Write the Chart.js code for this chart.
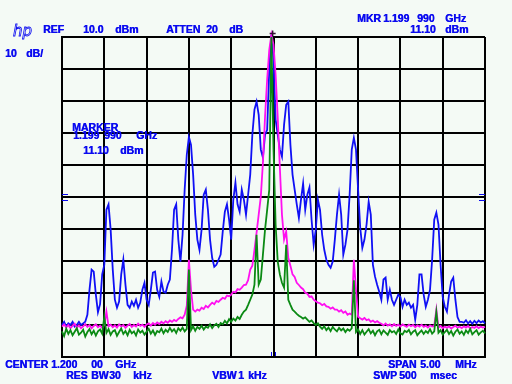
<!DOCTYPE html>
<html><head><meta charset="utf-8">
<script src="https://cdn.jsdelivr.net/npm/chart.js@4/dist/chart.umd.min.js"></script>
<style>html,body{margin:0;padding:0;background:#f4faf5;}canvas{display:block;}</style>
</head><body>
<canvas id="c" width="512" height="384" style="width:512px;height:384px"></canvas>
<script>
// Analyzer settings
const CENTER_MHZ = 1200.0;
const SPAN_MHZ = 5.0;
const REF_DBM = 10.0;
const DB_PER_DIV = 10;
const N_POINTS = 201;
const MARKER = { offsetMHz: -0.010, dBm: 11.10 };
const displayLines = [-39, -41];
const centerTicks = [-0.03, 0.02];

// Trace values (dBm), sampled across the span
const blueTrace = [
-80,-79,-80.5,-79.5,-80,-79,-80.5,-80,-79,-80,-79.5,
-79,-76.8,-69,-62.7,-63.3,-70.5,-76,-73.5,-64.2,-61.2,
-44,-42.3,-50.2,-62.7,-72.1,-74.6,-72.7,-64.2,-59.6,-67.4,
-73.7,-74.6,-72.7,-74,-72.1,-74.6,-73,-69,-66.8,-72.1,
-73.7,-69,-63.6,-63.3,-69,-71.2,-66.4,-69.6,-69.9,-67.4,
-65.8,-56.5,-44,-42.3,-53.3,-60.2,-51.8,-37.7,-26.8,-21.2,
-23.7,-33,-45.5,-53.3,-56.5,-50.2,-39.3,-37.7,-44,-53.3,
-59,-61.8,-61.2,-59.6,-58,-50.8,-44.6,-42.3,-47.1,-53.3,
-40.8,-35.5,-42.3,-44.6,-37.7,-40.8,-45.5,-39.3,-33,-20.5,
-12.7,-10.2,-14.3,-25.2,-27.7,-20.5,-19,-0.2,10.7,2.9,
-15.8,-20.5,-25.2,-27.4,-17.4,-11.2,-10.2,-23.7,-33,-37.7,
-42.3,-46.5,-40.8,-35.8,-44,-39.3,-37,-47.1,-54.9,-50.2,
-40.8,-44,-51.8,-56.5,-59.6,-61.2,-62.1,-60.2,-53.3,-45.5,
-39.3,-45.5,-58,-54.9,-50.2,-39.3,-25.2,-21.5,-25.2,-37.7,
-49.6,-55.9,-53.3,-48.6,-41.5,-45.5,-61.2,-64.9,-67.4,-69.6,
-72.1,-65.8,-65.2,-72.1,-69,-72.1,-73.7,-72.1,-70.5,-71.2,
-74.3,-72.1,-73.7,-73,-74.6,-73.7,-78.3,-73.7,-64.2,-64.2,
-70.5,-74.3,-72.1,-69,-59.6,-47.1,-44.9,-48.6,-61.2,-71.2,
-74.3,-75.8,-70.5,-66.4,-65.2,-72.1,-77.5,-79,-79,-79.3,
-78.5,-79.5,-78.8,-79.6,-78.7,-79.4,-78.6,-79.2,-78.8,-79.5
];
const magentaTrace = [
-80.5,-79.8,-80.8,-80,-81,-80.2,-79.6,-80.8,-80.1,-81,-80.4,-79.7,-80.6,-80,-81,-80.3,-79.8,-80.7,-80.2,-80.9,-80,
-75.8,
-80.4,-79.9,-80.7,-80.1,-80.8,-79.8,-80.5,-80,-80.9,-80.2,-79.7,-80.6,-80,-80.5,-79.6,-80.3,-79.9,-80.6,-79.8,
-79.5,-80.2,-79.4,-79.9,-79.2,-79.7,-79,-79.5,-78.8,-79.3,-78.6,-79,-78.4,-78.8,-78.1,
-77.6,-77.9,-76.8,-74,
-59.6,
-69,-75.2,-75.8,-75.2,-75.5,-74.6,-75,-74,-74.5,-73.7,
-73,-73.5,-72.5,-72.8,-72.1,-71.5,-71.8,-70.8,-71,-70.5,
-69.6,-69.8,-68.8,-69,-68.3,-67.5,-67.4,-66,-62.7,-61.5,
-56.5,-51.1,-45.5,-39.9,-29.3,-14.9,-3.3,6,10.7,7.6,
-1.8,-15.2,-30.8,-45.5,-53.3,-50.8,-59,-61.5,-64.2,-65,
-66.8,-67.5,-68.3,-68.8,-69.9,-70.2,-71.2,-71,-72.1,-72.6,
-73,-73.2,-73.8,-73.4,-74.2,-74.3,-74.9,-74.5,-75.2,-75.2,
-75.8,-75.4,-76.2,-75.8,-76.8,-76.4,-76.8,
-59.6,
-69,
-77.4,-77.9,-78.3,-77.8,-78.5,-78.2,-79,-78.6,-79.2,-78.8,-79.3,
-79.6,-80.1,-79.5,-80.2,-79.8,-80.4,-79.7,-80.3,-79.9,-80.5,-79.8,-80.2,-80.6,-79.9,-80.4,-80,-80.7,-80.1,-80.5,-79.9,-80.6,-80.2,-80.8,-80.1,-80.5,-80.3,
-75.2,
-80.8,-80.3,-81,-80.5,-80.9,-80.4,-81.1,-80.6,-80.2,-80.9,-80.5,-81,-80.4,-80.8,-80.3,-81.1,-80.6,-80.9,-80.4,-81,-80.5,-80.8,-80.6
];
const greenTrace = [
-82,-83.5,-81.2,-82.8,-81.6,-83.2,-82.1,-81,-83,-82.4,-81.5,-83.6,-82.2,-81.3,-82.9,-81.8,-83.3,-82,-81.4,-82.7,
-77.4,
-82.5,-81.3,-83.1,-82,-81.6,-83.4,-82.2,-81.1,-82.8,-81.9,-83.2,-81.5,-82.6,-82,-83.3,-81.4,-82.4,-81.8,-83,-82.1,-81.2,-82.7,-81.7,-83.1,-81.9,-82.3,-81.1,-82.6,-81.5,-82.2,-80.9,-82,-81.3,-82.5,-81,-81.8,-80.8,-82,-81.2,
-62.7,
-81.6,-80.4,-81.8,-80.6,-81.2,-80.2,-81.4,-80.5,-80.9,-79.8,-81,-80.1,-79.6,-80.6,-79.4,
-79.8,-78.7,-79.5,-78.2,-79,-78,-78.6,-77.5,-78.1,
-76.8,-75.8,-75.2,-73.7,-72.1,-70.5,-67.4,-51.8,-67.4,-65.8,-58,-50.2,-44,-37.7,
10,
-25,
-48.6,-60.2,-64.2,-66.8,-68.3,-54.9,-72.1,-73.7,-75.2,-75.8,-76.5,-77.1,-77.5,-78,-77.6,-78.3,-79,-78.6,-79.4,-80,-79.5,-80.5,
-81.2,-80.4,-81.6,-80.8,-81.9,-80.6,-81.4,-82,-80.9,-81.7,-81.1,-82.2,-81.3,-81.8,-81,
-66,
-82.2,-81.4,-82.8,-81.6,-83,-82.1,-81.3,-82.6,-81.8,-83.2,-82,-81.5,-82.9,-81.7,-82.4,-83.1,-81.6,-82.3,-81.9,-82.8,-81.4,-82.6,-83,-81.8,-82.2,-81.5,-82.9,-82.1,-81.6,-83.2,-82.4,-81.7,-82.8,-81.9,-82.5,-81.3,-82.7,-82,
-76,
-82.4,-81.6,-83,-82.2,-81.5,-82.8,-81.9,-83.3,-82.1,-81.4,-82.7,-82,-83.1,-81.7,-82.5,-81.2,-82.9,-82.2,-81.6,-83,-82.3,-81.8,-82.6
];

// Screen annotations: [text, left x, baseline y]
const TEXT_BLUE = '#0a0af0';
const annotations = [
  ['REF', 43, 33], ['10.0', 83, 33], ['dBm', 115, 33], ['ATTEN', 166, 33], ['20', 206, 33], ['dB', 229, 33],
  ['MKR', 357, 22], ['1.199', 383, 22], ['990', 417, 22], ['GHz', 445, 22],
  ['11.10', 410, 33], ['dBm', 445, 33],
  ['10', 5, 57], ['dB/', 26, 57],
  ['MARKER', 72, 131], ['1.199', 73, 139], ['990', 104, 139], ['GHz', 136, 139],
  ['11.10', 83, 154], ['dBm', 120, 154],
  ['CENTER', 5, 368], ['1.200', 51, 368], ['00', 91, 368], ['GHz', 115, 368],
  ['RES', 66, 379], ['BW', 91, 379], ['30', 109, 379], ['kHz', 133, 379],
  ['VBW', 212, 379], ['1', 238, 379], ['kHz', 248, 379],
  ['SPAN', 388, 368], ['5.00', 420, 368], ['MHz', 455, 368],
  ['SWP', 373, 379], ['500', 399, 379], ['msec', 430, 379]
];

const half = SPAN_MHZ / 2;
const step = SPAN_MHZ / (N_POINTS - 1);
const toXY = arr => arr.map((v, i) => ({ x: -half + i * step, y: v }));

const overlay = {
  id: 'overlay',
  beforeDraw(chart) {
    const c = chart.ctx;
    c.save(); c.fillStyle = '#f4faf5'; c.fillRect(0, 0, chart.width, chart.height); c.restore();
  },
  afterDraw(chart) {
    const c = chart.ctx, a = chart.chartArea, xs = chart.scales.x, ys = chart.scales.y;
    c.save();
    c.strokeStyle = TEXT_BLUE; c.lineWidth = 1;
    displayLines.forEach(v => {
      const y = Math.round(ys.getPixelForValue(v)) + 0.5;
      c.beginPath(); c.moveTo(a.left, y); c.lineTo(a.left + 6, y); c.stroke();
      c.beginPath(); c.moveTo(a.right - 6, y); c.lineTo(a.right, y); c.stroke();
    });
    centerTicks.forEach(v => {
      const x = Math.round(xs.getPixelForValue(v)) + 0.5;
      c.beginPath(); c.moveTo(x, a.bottom - 1); c.lineTo(x, a.bottom - 5); c.stroke();
    });
    c.fillStyle = TEXT_BLUE;
    c.font = 'bold 10.5px "Liberation Sans"';
    c.textBaseline = 'alphabetic';
    annotations.forEach(([t, x, y]) => { c.fillText(t, x, y); c.fillText(t, x + 0.4, y); });
    // hp logo
    c.font = 'italic 15px "DejaVu Sans"';
    c.lineWidth = 0.8;
    c.strokeText('hp', 13, 36);
    c.restore();
  }
};

const gridOpts = { color: '#000', lineWidth: 2, drawTicks: false };
new Chart(document.getElementById('c'), {
  type: 'line',
  data: { datasets: [
    { data: [{ x: MARKER.offsetMHz, y: MARKER.dBm }], showLine: false, pointRadius: 3, pointStyle: 'cross',
      borderColor: '#301030', borderWidth: 1.5, order: -1, clip: false },
    { data: toXY(greenTrace), borderColor: '#0b8a14', borderWidth: 1.8, pointRadius: 0, order: 1, clip: false },
    { data: toXY(magentaTrace), borderColor: '#ff10f0', borderWidth: 1.8, pointRadius: 0, order: 2, clip: false },
    { data: toXY(blueTrace), borderColor: '#1010f5', borderWidth: 1.8, pointRadius: 0, order: 3, clip: false }
  ]},
  options: {
    responsive: false, animation: false,
    layout: { padding: { left: 62, top: 37, right: 27, bottom: 27 } },
    plugins: { legend: { display: false }, tooltip: { enabled: false } },
    elements: { line: { tension: 0 } },
    scales: {
      x: { type: 'linear', min: -half, max: half, ticks: { display: false, stepSize: 0.5 },
           grid: gridOpts, border: { color: '#000', width: 2 } },
      y: { type: 'linear', min: REF_DBM - 10 * DB_PER_DIV, max: REF_DBM, ticks: { display: false, stepSize: DB_PER_DIV },
           grid: gridOpts, border: { color: '#000', width: 2 } }
    }
  },
  plugins: [overlay]
});
</script>
</body></html>
